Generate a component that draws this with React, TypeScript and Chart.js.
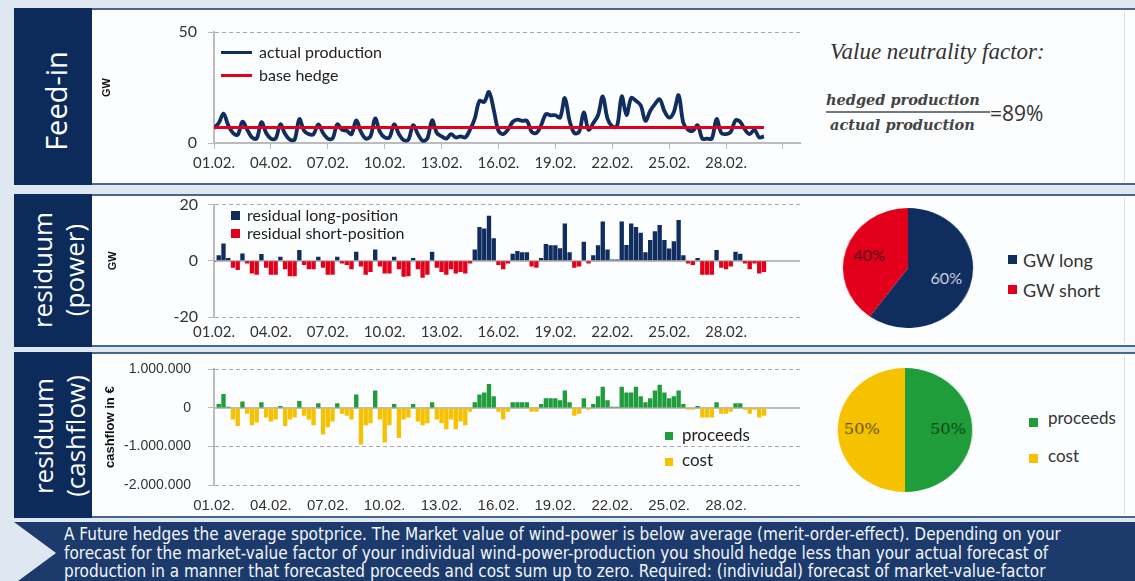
import React, { useEffect, useRef } from 'react';
import { Chart, registerables } from 'chart.js';

Chart.register(...registerables);

// ---------------- data ----------------
const dayTickLabels = ['01.02.', '04.02.', '07.02.', '10.02.', '13.02.', '16.02.', '19.02.', '22.02.', '25.02.', '28.02.', ''];
const tickEveryDays = 3;
const samplesPerDay = 4; // 00h, 06h, 12h, 18h

const actualProductionGW = [
  6.7, 9.0, 13.2, 8.0,
  4.5, 3.7, 9.6, 6.0,
  2.5, 2.0, 9.4, 4.5,
  2.0, 2.0, 8.4, 4.0,
  1.5, 1.5, 10.8, 5.5,
  4.0, 4.0, 8.4, 4.5,
  2.0, 2.0, 8.4, 6.0,
  5.5, 4.0, 10.2, 5.0,
  2.0, 3.0, 11.0, 5.0,
  2.5, 2.5, 8.4, 4.0,
  1.3, 1.5, 8.0, 4.0,
  1.0, 2.0, 10.2, 4.5,
  3.0, 2.0, 4.0, 2.5,
  3.0, 2.5, 6.0, 11.0,
  19.0, 18.5, 23.0, 15.0,
  5.5, 4.0, 6.0, 9.5,
  10.5, 10.0, 10.0, 5.0,
  4.5, 8.0, 13.0, 12.5,
  12.5, 11.5, 20.3, 10.0,
  4.5, 5.0, 13.8, 6.0,
  9.0, 12.5, 21.0, 11.0,
  7.5, 7.5, 21.0, 12.6,
  20.3, 19.0, 17.0, 10.0,
  14.4, 17.5, 19.7, 14.4,
  11.4, 14.0, 21.5, 9.0,
  6.0, 5.5, 8.0, 2.0,
  2.0, 2.0, 10.8, 4.5,
  4.0, 5.0, 10.2, 9.5,
  6.0, 4.0, 6.0, 2.5,
  3.0,
];

const baseHedgeGW = 7;

const residualGW = [
  -0.3, 2.0, 6.2, 1.0,
  -2.5, -3.3, 2.6, -1.0,
  -4.5, -5.0, 2.4, -2.5,
  -5.0, -5.0, 1.4, -3.0,
  -5.5, -5.5, 3.8, -1.5,
  -3.0, -3.0, 1.4, -2.5,
  -5.0, -5.0, 1.4, -1.0,
  -1.5, -3.0, 3.2, -2.0,
  -5.0, -4.0, 4.0, -2.0,
  -4.5, -4.5, 1.4, -3.0,
  -5.7, -5.5, 1.0, -3.0,
  -6.0, -5.0, 3.2, -2.5,
  -4.0, -5.0, -3.0, -4.5,
  -4.0, -4.5, -1.0, 4.0,
  12.0, 11.5, 16.0, 8.0,
  -1.5, -3.0, -1.0, 2.5,
  3.5, 3.0, 3.0, -2.0,
  -2.5, 1.0, 6.0, 5.5,
  5.5, 4.5, 13.3, 3.0,
  -2.5, -2.0, 6.8, -1.0,
  2.0, 5.5, 14.0, 4.0,
  0.5, 0.5, 14.0, 5.6,
  13.3, 12.0, 10.0, 3.0,
  7.4, 10.5, 12.7, 7.4,
  4.4, 7.0, 14.5, 2.0,
  -1.0, -1.5, 1.0, -5.0,
  -5.0, -5.0, 3.8, -2.5,
  -3.0, -2.0, 3.2, 2.5,
  -1.0, -3.0, -1.0, -4.5,
  -4.0,
];

const cashflowEUR = [
  -20000, 100000, 360000, 30000,
  -300000, -470000, 170000, -150000,
  -450000, -380000, 150000, -250000,
  -350000, -300000, 50000, -470000,
  -300000, -250000, 180000, -200000,
  -300000, -450000, 120000, -690000,
  -500000, -350000, 120000, -150000,
  -200000, -300000, 350000, -950000,
  -450000, -400000, 450000, -300000,
  -900000, -450000, 100000, -780000,
  -300000, -250000, 100000, -350000,
  -450000, -400000, 150000, -300000,
  -400000, -550000, -300000, -550000,
  -350000, -450000, -100000, 150000,
  350000, 400000, 620000, 300000,
  -100000, -300000, -100000, 150000,
  150000, 150000, 150000, -100000,
  -100000, 100000, 250000, 250000,
  250000, 200000, 450000, 150000,
  -200000, -150000, 250000, -50000,
  100000, 300000, 550000, 200000,
  30000, 30000, 550000, 400000,
  400000, 550000, 300000, 150000,
  250000, 450000, 600000, 400000,
  250000, 300000, 450000, 100000,
  -50000, -50000, 50000, -250000,
  -250000, -250000, 150000, -150000,
  -150000, -100000, 120000, 120000,
  -50000, -150000, -50000, -250000,
  -200000,
];

const powerShareLabels = ['GW long', 'GW short'];
const powerSharePercent = [60, 40];
const cashShareLabels = ['proceeds', 'cost'];
const cashSharePercent = [50, 50];
const hedgeRatioPercent = 89;

// ---------------- styles ----------------
const BG = '#dfe7f1';
const NAVY = '#0f2d5e';
const BLOCK = '#0c2a5a';
const BANNER = '#1c3b6c';
const RED = '#e3001b';
const GREEN = '#1f9d3a';
const YELLOW = '#f6c200';
const AXIS = '#bcbcbc';
const GRID = '#a8a8a8';
const LATO = 'Lato, "Open Sans", sans-serif';
const ARIAL = '"Liberation Sans", Arial, sans-serif';
const X_MAX = 30.9;
const Y_AXIS_WIDTH = 119;

const toPoints = (arr: number[]) => arr.map((y, i) => ({ x: i / samplesPerDay, y }));
const lastDay = (actualProductionGW.length - 1) / samplesPerDay;

const formatDE = (v: number) => {
  const s = Math.abs(v).toString().replace(/\B(?=(\d{3})+(?!\d))/g, '.');
  return (v < 0 ? '-' : '') + s;
};

const dayTicks = (scale: any) => {
  scale.ticks = dayTickLabels.map((_, k) => ({ value: k * tickEveryDays }));
};

function xAxis(font: any, padding: number, height: number, showLine: boolean) {
  return {
    type: 'linear',
    min: 0,
    max: X_MAX,
    offset: false,
    afterBuildTicks: dayTicks,
    ticks: {
      autoSkip: false,
      maxRotation: 0,
      font,
      color: '#333',
      padding,
      callback: (v: number) => dayTickLabels[Math.round(v / tickEveryDays)] ?? '',
    },
    grid: { display: showLine, offset: false, drawOnChartArea: false, drawTicks: showLine, tickLength: 6, color: AXIS, tickColor: AXIS },
    border: { display: showLine, color: AXIS, width: 2 },
    afterFit: (s: any) => { s.height = height; },
  };
}

// a tick-less companion axis whose single grid line is the solid zero line
function zeroLineAxis(min: number, max: number) {
  return {
    min,
    max,
    position: 'left',
    afterBuildTicks: (s: any) => { s.ticks = [{ value: 0 }]; },
    ticks: { display: false },
    grid: { color: AXIS, lineWidth: 2, drawTicks: false },
    border: { display: false },
    afterFit: (s: any) => { s.width = 0; },
  };
}

function yAxis(o: any) {
  return {
    min: o.min,
    max: o.max,
    ticks: { stepSize: o.step, font: o.font, color: '#333', padding: o.padding, callback: o.fmt || ((v: number) => String(v)) },
    grid: {
      color: (c: any) => (c.tick && c.tick.value === 0 ? 'rgba(0,0,0,0)' : GRID),
      tickColor: AXIS,
      tickLength: 6,
      lineWidth: 1,
    },
    border: { display: true, color: AXIS, width: 2, dash: [4, 3] },
    title: { display: true, text: o.title, font: o.titleFont, color: '#111', padding: { top: o.titlePad, bottom: 0 } },
    afterFit: (s: any) => { s.width = Y_AXIS_WIDTH; },
  };
}

const sliceLabelPlugin = {
  id: 'sliceLabels',
  afterDatasetsDraw(chart: any, _a: any, opts: any) {
    const { ctx } = chart;
    const meta = chart.getDatasetMeta(0);
    const values: number[] = chart.data.datasets[0].data;
    const total = values.reduce((s, v) => s + v, 0);
    ctx.save();
    ctx.textAlign = 'center';
    ctx.textBaseline = 'middle';
    ctx.font = opts.font;
    meta.data.forEach((arc: any, i: number) => {
      const p = arc.getProps(['x', 'y', 'startAngle', 'endAngle', 'outerRadius'], true);
      const mid = (p.startAngle + p.endAngle) / 2;
      const r = p.outerRadius * opts.radius;
      ctx.fillStyle = opts.colors[i];
      ctx.fillText(Math.round((values[i] / total) * 100) + '%', p.x + Math.cos(mid) * r, p.y + Math.sin(mid) * r);
    });
    ctx.restore();
  },
};

const baseOptions = {
  animation: false,
  responsive: false,
  maintainAspectRatio: false,
  events: [],
};

const buildFeedIn = () => ({
  type: 'line',
  data: {
    datasets: [
      { label: 'actual production', data: toPoints(actualProductionGW), borderColor: NAVY, borderWidth: 3.8, pointRadius: 0, tension: 0.35, order: 2 },
      { label: 'base hedge', data: [{ x: 0, y: baseHedgeGW }, { x: lastDay, y: baseHedgeGW }], borderColor: RED, borderWidth: 3, pointRadius: 0, order: 1 },
    ],
  },
  options: {
    ...baseOptions,
    layout: { padding: { top: 22, right: 10, left: 0, bottom: 0 } },
    plugins: { legend: { display: false }, tooltip: { enabled: false } },
    scales: {
      x: xAxis({ family: LATO, size: 15 }, 5, 39, true),
      y: yAxis({ min: 0, max: 50, step: 50, font: { family: LATO, size: 16 }, padding: 11, title: 'GW', titleFont: { family: ARIAL, size: 11, weight: 'bold' }, titlePad: 5 }),
    },
  },
});

const buildResidual = () => ({
  type: 'bar',
  data: {
    datasets: [
      {
        label: 'residual position',
        data: toPoints(residualGW),
        backgroundColor: (c: any) => (c.parsed && c.parsed.y < 0 ? RED : NAVY),
        categoryPercentage: 1,
        barPercentage: 0.92,
      },
    ],
  },
  options: {
    ...baseOptions,
    layout: { padding: { top: 0, right: 10, left: 0, bottom: 0 } },
    plugins: { legend: { display: false }, tooltip: { enabled: false } },
    scales: {
      x: xAxis({ family: LATO, size: 15 }, 6, 28, false),
      y: yAxis({ min: -20, max: 20, step: 20, font: { family: LATO, size: 16 }, padding: 10, title: 'GW', titleFont: { family: ARIAL, size: 11, weight: 'bold' }, titlePad: 11 }),
      yZero: zeroLineAxis(-20, 20),
    },
  },
});

const buildCashflow = () => ({
  type: 'bar',
  data: {
    datasets: [
      {
        label: 'cashflow',
        data: toPoints(cashflowEUR),
        backgroundColor: (c: any) => (c.parsed && c.parsed.y < 0 ? YELLOW : GREEN),
        categoryPercentage: 1,
        barPercentage: 0.92,
      },
    ],
  },
  options: {
    ...baseOptions,
    layout: { padding: { top: 0, right: 10, left: 0, bottom: 0 } },
    plugins: { legend: { display: false }, tooltip: { enabled: false } },
    scales: {
      x: xAxis({ family: ARIAL, size: 15 }, 12, 32, false),
      y: yAxis({ min: -2000000, max: 1000000, step: 1000000, font: { family: ARIAL, size: 14 }, padding: 17, fmt: formatDE, title: 'cashflow in €', titleFont: { family: ARIAL, size: 13, weight: 'bold' }, titlePad: 8 }),
      yZero: zeroLineAxis(-2000000, 1000000),
    },
  },
});

const buildPie = (labels: string[], values: number[], colors: string[], labelOpts: any) => () => ({
  type: 'pie',
  data: { labels, datasets: [{ data: values, backgroundColor: colors, borderWidth: 0 }] },
  options: {
    ...baseOptions,
    layout: { padding: 0 },
    plugins: { legend: { display: false }, tooltip: { enabled: false }, sliceLabels: labelOpts },
  },
  plugins: [sliceLabelPlugin],
});

function ChartCanvas({ left, top, width, height, build, style }: any) {
  const ref = useRef<HTMLCanvasElement | null>(null);
  useEffect(() => {
    const chart = new Chart(ref.current as HTMLCanvasElement, build());
    return () => chart.destroy();
  }, []);
  return (
    <canvas
      ref={ref}
      width={width}
      height={height}
      style={{ position: 'absolute', left, top, width, height, ...(style || {}) }}
    />
  );
}

function Txt({ x, y, size, children, style }: any) {
  return (
    <div
      style={{
        position: 'absolute',
        left: x,
        top: y,
        transform: 'translateY(-50%)',
        fontSize: size,
        lineHeight: 1.15,
        whiteSpace: 'nowrap',
        color: '#333',
        fontFamily: LATO,
        ...(style || {}),
      }}
    >
      {children}
    </div>
  );
}

function Square({ x, y, size, color }: any) {
  return <div style={{ position: 'absolute', left: x, top: y, width: size, height: size, background: color }} />;
}

function Panel({ top, height, label, labelX, labelY, labelSize }: any) {
  return (
    <>
      <div
        style={{
          position: 'absolute',
          left: 14,
          top,
          width: 1121,
          height,
          boxSizing: 'border-box',
          background: '#fcfdfe',
          borderTop: '2px solid #46688f',
          borderBottom: '2px solid #46688f',
        }}
      />
      <div style={{ position: 'absolute', left: 1124, top: top + 4, width: 1, height: height - 8, background: '#d5dde8' }} />
      <div style={{ position: 'absolute', left: 14, top, width: 78, height, background: BLOCK }} />
      <div
        style={{
          position: 'absolute',
          left: labelX,
          top: labelY,
          transform: 'translate(-50%, -50%) rotate(-90deg)',
          color: '#ffffff',
          fontFamily: '"Open Sans", Lato, sans-serif',
          fontSize: labelSize,
          lineHeight: '32px',
          textAlign: 'center',
          whiteSpace: 'nowrap',
        }}
      >
        {label}
      </div>
    </>
  );
}

export default function App() {
  return (
    <div
      style={{
        position: 'fixed',
        left: 0,
        top: 0,
        width: 1135,
        height: 581,
        background: BG,
        overflow: 'hidden',
        fontFamily: LATO,
      }}
    >
      <Panel top={8} height={177} label="Feed-in" labelX={56} labelY={101} labelSize={29} />
      <Panel top={194} height={153} label={<>residuum<br />(power)</>} labelX={58} labelY={270} labelSize={26} />
      <Panel top={352} height={166} label={<>residuum<br />(cashflow)</>} labelX={59} labelY={436} labelSize={26} />

      {/* Row 1: feed-in */}
      <ChartCanvas left={95} top={10} width={715} height={172} build={buildFeedIn} />
      <div style={{ position: 'absolute', left: 221, top: 50.5, width: 31, height: 3.5, background: NAVY }} />
      <Txt x={259} y={52} size={16} style={{ color: '#222' }}>actual production</Txt>
      <div style={{ position: 'absolute', left: 221, top: 73.5, width: 31, height: 3, background: RED }} />
      <Txt x={259} y={75} size={16} style={{ color: '#222' }}>base hedge</Txt>

      <Txt x={830} y={52} size={23} style={{ fontFamily: '"Liberation Serif", serif', fontStyle: 'italic', color: '#333' }}>
        Value neutrality factor:
      </Txt>
      <Txt x={826} y={100} size={14.5} style={{ fontFamily: '"DejaVu Serif", serif', fontStyle: 'italic', fontWeight: 'bold', color: '#444' }}>
        hedged production
      </Txt>
      <div style={{ position: 'absolute', left: 826, top: 111, width: 164, height: 1.5, background: '#777' }} />
      <Txt x={830} y={125} size={14.5} style={{ fontFamily: '"DejaVu Serif", serif', fontStyle: 'italic', fontWeight: 'bold', color: '#444' }}>
        actual production
      </Txt>
      <Txt x={990} y={113} size={21} style={{ fontFamily: '"Open Sans", sans-serif', color: '#333' }}>
        ={hedgeRatioPercent}%
      </Txt>

      {/* Row 2: residual power */}
      <ChartCanvas left={95} top={185} width={715} height={160} build={buildResidual} />
      <Square x={231} y={211} size={9} color={NAVY} />
      <Txt x={247} y={215} size={16} style={{ color: '#222' }}>residual long-position</Txt>
      <Square x={231} y={229} size={9} color={RED} />
      <Txt x={247} y={233} size={16} style={{ color: '#222' }}>residual short-position</Txt>

      <ChartCanvas
        left={848}
        top={208}
        width={120}
        height={120}
        style={{ transform: 'scaleX(1.085)' }}
        build={buildPie(powerShareLabels, powerSharePercent, [NAVY, RED], { font: '15px Lato', colors: ['#d9dde6', '#4a0810'], radius: 0.62 })}
      />
      <Square x={1008} y={255} size={9} color={NAVY} />
      <Txt x={1023} y={260} size={18}>{powerShareLabels[0]}</Txt>
      <Square x={1008} y={285} size={9} color={RED} />
      <Txt x={1023} y={290} size={18}>{powerShareLabels[1]}</Txt>

      {/* Row 3: residual cashflow */}
      <ChartCanvas left={95} top={344} width={715} height={173} build={buildCashflow} />
      <Square x={665} y={432} size={8} color={GREEN} />
      <Txt x={682} y={435} size={17} style={{ color: '#222' }}>proceeds</Txt>
      <Square x={665} y={458} size={8} color={YELLOW} />
      <Txt x={682} y={460} size={17} style={{ color: '#222' }}>cost</Txt>

      <ChartCanvas
        left={843}
        top={368}
        width={124}
        height={124}
        style={{ transform: 'scaleX(1.085)' }}
        build={buildPie(cashShareLabels, cashSharePercent, [GREEN, YELLOW], { font: '15px "DejaVu Serif"', colors: ['#0a3f14', '#5e4f05'], radius: 0.64 })}
      />
      <Square x={1029} y={418} size={9} color={GREEN} />
      <Txt x={1048} y={418} size={17}>{cashShareLabels[0]}</Txt>
      <Square x={1029} y={454} size={9} color={YELLOW} />
      <Txt x={1048} y={456} size={17}>{cashShareLabels[1]}</Txt>

      {/* Banner */}
      <div style={{ position: 'absolute', left: 14, top: 522, width: 1121, height: 62, background: BANNER }} />
      <div
        style={{
          position: 'absolute',
          left: 14,
          top: 522,
          width: 42,
          height: 62,
          background: BG,
          clipPath: 'polygon(0 0, 100% 50%, 0 100%)',
        }}
      />
      <div
        style={{
          position: 'absolute',
          left: 64,
          top: 525,
          color: '#f3f5f9',
          fontFamily: '"DejaVu Sans Condensed", "Liberation Sans Narrow", "DejaVu Sans", sans-serif',
          fontStretch: 'condensed',
          fontSize: 17,
          lineHeight: '18.5px',
          whiteSpace: 'nowrap',
        }}
      >
        A Future hedges the average spotprice. The Market value of wind-power is below average (merit-order-effect). Depending on your
        <br />
        forecast for the market-value factor of your individual wind-power-production you should hedge less than your actual forecast of
        <br />
        production in a manner that forecasted proceeds and cost sum up to zero. Required: (indiviudal) forecast of market-value-factor
      </div>
    </div>
  );
}
